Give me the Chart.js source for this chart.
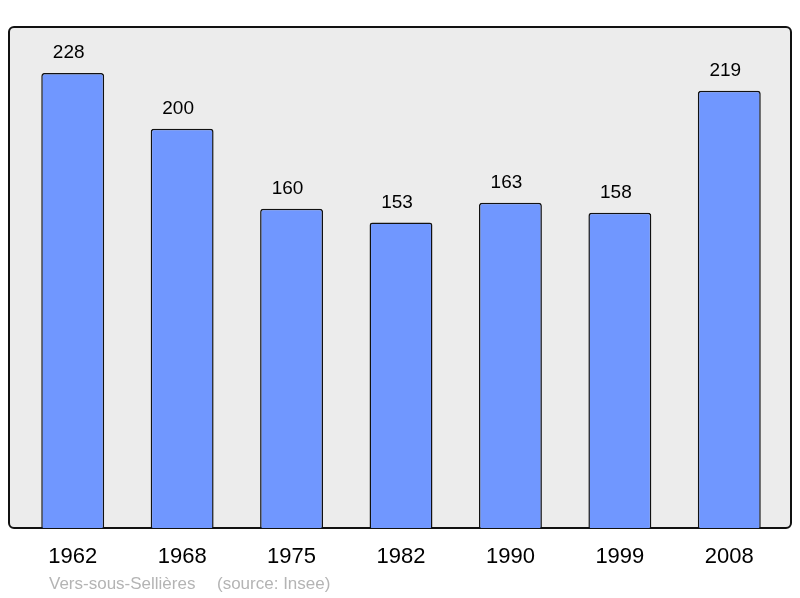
<!DOCTYPE html>
<html>
<head>
<meta charset="utf-8">
<script src="https://cdn.jsdelivr.net/npm/chart.js@4"></script>
<style>
  html, body { margin: 0; padding: 0; background: #fff; }
  #wrap { width: 800px; height: 598px; }
</style>
</head>
<body>
<div id="wrap"><canvas id="chart1" width="800" height="598"></canvas></div>
<script>
// population par année
const years = ['1962', '1968', '1975', '1982', '1990', '1999', '2008'];
const population = [228, 200, 160, 153, 163, 158, 219];
const commune = 'Vers-sous-Sellières';
const source = '(source: Insee)';

const FONT = '"Liberation Sans", Arial, sans-serif';

// fond gris + cadre arrondi
const framePlugin = {
    id: 'frame',
    beforeDatasetsDraw(chart) {
        const a = chart.chartArea;
        const ctx = chart.ctx;
        ctx.save();
        ctx.beginPath();
        ctx.roundRect(a.left - 9, a.top, a.right - a.left + 16, a.bottom - a.top, 5);
        ctx.fillStyle = '#ececec';
        ctx.fill();
        ctx.lineWidth = 2;
        ctx.strokeStyle = '#111';
        ctx.stroke();
        ctx.restore();
    }
};

// valeurs au dessus des barres + pied de page
const labelsPlugin = {
    id: 'valueLabels',
    afterDatasetsDraw(chart) {
        const ctx = chart.ctx;
        const meta = chart.getDatasetMeta(0);
        ctx.save();
        ctx.font = '19px ' + FONT;
        ctx.fillStyle = '#000';
        ctx.textAlign = 'center';
        ctx.textBaseline = 'alphabetic';
        meta.data.forEach((bar, i) => {
            // un peu à gauche du centre, comme l'original
            ctx.fillText(population[i], bar.x - 4, bar.y - 15);
        });
        ctx.font = '17px ' + FONT;
        ctx.fillStyle = '#b4b4b4';
        ctx.textAlign = 'left';
        ctx.textBaseline = 'middle';
        ctx.fillText(commune, 49, 584);
        ctx.fillText(source, 217, 584);
        ctx.restore();
    }
};

var chart1Ctx = document.getElementById('chart1').getContext('2d');
var chart1 = new Chart(chart1Ctx, {
    type: 'bar',
    data: {
        labels: years,
        datasets: [{
            data: population,
            backgroundColor: '#7097ff',
            borderColor: '#111',
            borderWidth: 1.5,
            borderRadius: { topLeft: 3, topRight: 3 },
            categoryPercentage: 1,
            barPercentage: 0.575
        }]
    },
    options: {
        responsive: false,
        animation: false,
        layout: {
            padding: { left: 18, right: 16, top: 27, bottom: 29 }
        },
        plugins: {
            legend: { display: false },
            tooltip: { enabled: false }
        },
        scales: {
            x: {
                grid: { display: false },
                border: { display: false },
                afterFit(scale) {
                    scale.height = 41;
                },
                ticks: {
                    color: '#000',
                    padding: 8,
                    font: { family: FONT, size: 22 }
                }
            },
            y: {
                display: false,
                min: 0,
                max: 251
            }
        }
    },
    plugins: [framePlugin, labelsPlugin]
});
</script>
</body>
</html>
